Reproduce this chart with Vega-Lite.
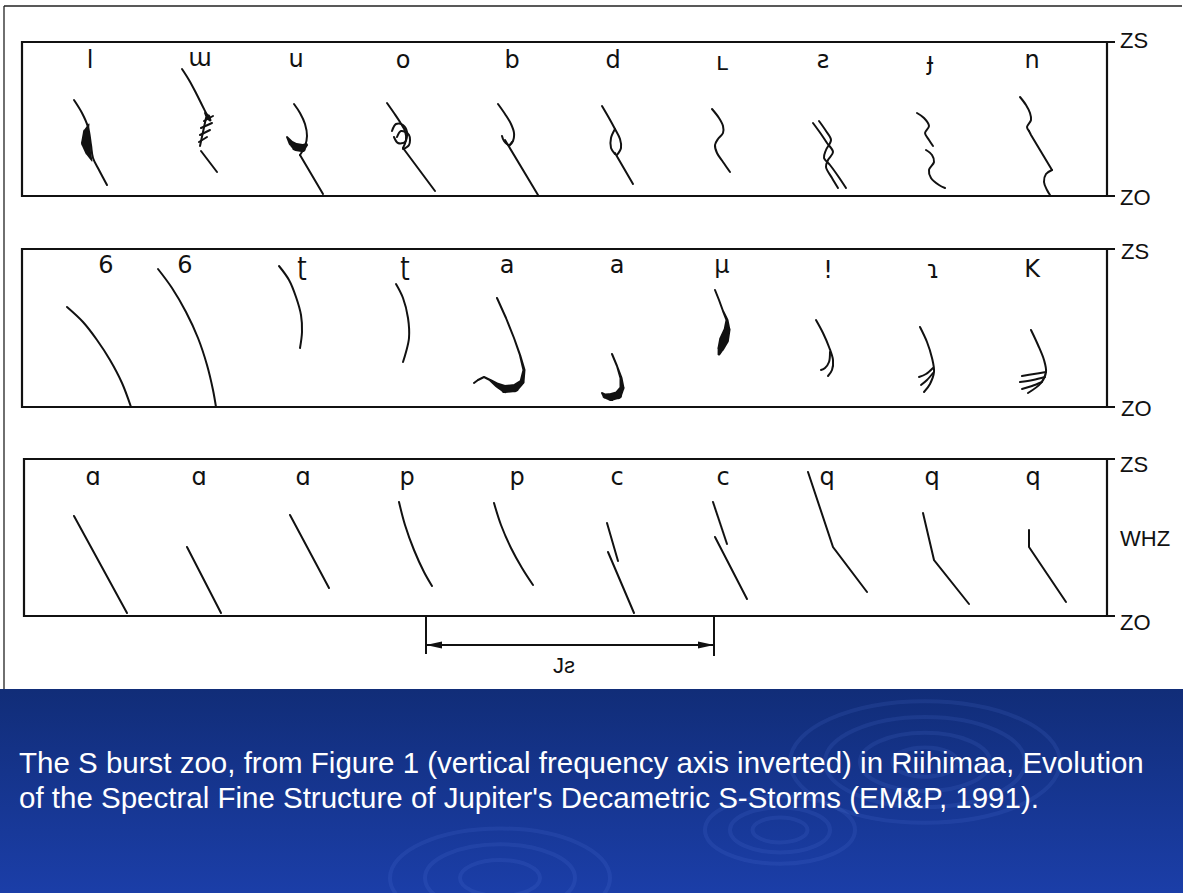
{
  "$schema": "https://vega.github.io/schema/vega-lite/v6.json",
  "width": 1183,
  "height": 893,
  "padding": 0,
  "autosize": {"type": "fit", "contains": "padding"},
  "background": "white",
  "config": {"view": {"stroke": null}},
  "resolve": {"scale": {"size": "independent", "shape": "independent"}},
  "datasets": {
    "band": [{"x1": 0, "x2": 1183, "y1": 689, "y2": 893}],
    "ripples": [
      {"x": 925, "y": 762, "rw": 270}, {"x": 925, "y": 762, "rw": 200}, {"x": 925, "y": 762, "rw": 130}, {"x": 925, "y": 762, "rw": 65},
      {"x": 780, "y": 830, "rw": 150}, {"x": 780, "y": 830, "rw": 100}, {"x": 780, "y": 830, "rw": 55},
      {"x": 500, "y": 878, "rw": 220}, {"x": 500, "y": 878, "rw": 150}, {"x": 500, "y": 878, "rw": 80}
    ],
    "panels": [
      {"x1": 22, "x2": 1107, "y1": 42, "y2": 196},
      {"x1": 22, "x2": 1107, "y1": 249, "y2": 407},
      {"x1": 24, "x2": 1107, "y1": 459, "y2": 616}
    ],
    "frame": [
      {"x": 4, "y": 6, "x2": 1182, "y2": 6},
      {"x": 4, "y": 6, "x2": 4, "y2": 689}
    ],
    "rules": [
      {"x": 1107, "y": 42, "x2": 1115, "y2": 42},
      {"x": 1107, "y": 196, "x2": 1115, "y2": 196},
      {"x": 1107, "y": 249, "x2": 1115, "y2": 249},
      {"x": 1107, "y": 407, "x2": 1115, "y2": 407},
      {"x": 1107, "y": 459, "x2": 1115, "y2": 459},
      {"x": 1107, "y": 616, "x2": 1115, "y2": 616},
      {"x": 426, "y": 616, "x2": 426, "y2": 654},
      {"x": 714, "y": 616, "x2": 714, "y2": 656},
      {"x": 426, "y": 645, "x2": 714, "y2": 645}
    ],
    "arrows": [{"x": 434, "y": 645, "dir": "L"}, {"x": 706, "y": 645, "dir": "R"}],
    "axislabels": [
      {"x": 1120, "y": 41, "t": "ZS"}, {"x": 1120, "y": 198, "t": "ZO"},
      {"x": 1121, "y": 252, "t": "ZS"}, {"x": 1121, "y": 409, "t": "ZO"},
      {"x": 1120, "y": 465, "t": "ZS"}, {"x": 1120, "y": 623, "t": "ZO"},
      {"x": 1120, "y": 539, "t": "WHZ"},
      {"x": 553, "y": 666, "t": "Jƨ"}
    ],
    "letters": [
      {"x": 90, "y": 68, "t": "l"}, {"x": 200, "y": 66, "t": "ɯ"}, {"x": 296, "y": 67, "t": "u"}, {"x": 403, "y": 68, "t": "o"}, {"x": 512, "y": 68, "t": "b"},
      {"x": 613, "y": 68, "t": "d"}, {"x": 722, "y": 70, "t": "ʟ"}, {"x": 823, "y": 68, "t": "ƨ"}, {"x": 930, "y": 70, "t": "ɟ"}, {"x": 1032, "y": 68, "t": "n"},
      {"x": 106, "y": 273, "t": "6"}, {"x": 185, "y": 273, "t": "6"}, {"x": 302, "y": 275, "t": "ʈ"}, {"x": 405, "y": 275, "t": "ʈ"}, {"x": 507, "y": 273, "t": "a"},
      {"x": 617, "y": 273, "t": "a"}, {"x": 722, "y": 273, "t": "µ"}, {"x": 828, "y": 278, "t": "!"}, {"x": 933, "y": 278, "t": "ɿ"}, {"x": 1032, "y": 277, "t": "K"},
      {"x": 93, "y": 485, "t": "ɑ"}, {"x": 199, "y": 485, "t": "ɑ"}, {"x": 303, "y": 485, "t": "ɑ"}, {"x": 407, "y": 485, "t": "p"}, {"x": 517, "y": 485, "t": "p"},
      {"x": 617, "y": 485, "t": "c"}, {"x": 723, "y": 485, "t": "c"}, {"x": 827, "y": 485, "t": "q"}, {"x": 932, "y": 485, "t": "q"}, {"x": 1033, "y": 485, "t": "q"}
    ],
    "curves": [
      {"id": "l", "i": 0, "x": 74, "y": 100}, {"id": "l", "i": 1, "x": 82, "y": 113}, {"id": "l", "i": 2, "x": 88, "y": 127}, {"id": "l", "i": 3, "x": 91, "y": 145}, {"id": "l", "i": 4, "x": 93, "y": 158}, {"id": "l", "i": 5, "x": 99, "y": 170}, {"id": "l", "i": 6, "x": 107, "y": 185},
      {"id": "m", "i": 0, "x": 182, "y": 69}, {"id": "m", "i": 1, "x": 189, "y": 80}, {"id": "m", "i": 2, "x": 196, "y": 93}, {"id": "m", "i": 3, "x": 202, "y": 105}, {"id": "m", "i": 4, "x": 208, "y": 117},
      {"id": "n", "i": 0, "x": 294, "y": 104}, {"id": "n", "i": 1, "x": 300, "y": 113}, {"id": "n", "i": 2, "x": 305, "y": 124}, {"id": "n", "i": 3, "x": 307, "y": 136}, {"id": "n", "i": 4, "x": 305, "y": 146}, {"id": "n", "i": 5, "x": 300, "y": 155},
      {"id": "o", "i": 0, "x": 387, "y": 103}, {"id": "o", "i": 1, "x": 394, "y": 113}, {"id": "o", "i": 2, "x": 400, "y": 122}, {"id": "o", "i": 3, "x": 405, "y": 131}, {"id": "o", "i": 4, "x": 406, "y": 140}, {"id": "o", "i": 5, "x": 403, "y": 148},
      {"id": "o2", "i": 0, "x": 392, "y": 131}, {"id": "o2", "i": 1, "x": 396, "y": 124}, {"id": "o2", "i": 2, "x": 403, "y": 125}, {"id": "o2", "i": 3, "x": 407, "y": 132}, {"id": "o2", "i": 4, "x": 405, "y": 142}, {"id": "o2", "i": 5, "x": 398, "y": 143}, {"id": "o2", "i": 6, "x": 394, "y": 137},
      {"id": "o3", "i": 0, "x": 397, "y": 137}, {"id": "o3", "i": 1, "x": 401, "y": 131}, {"id": "o3", "i": 2, "x": 409, "y": 135}, {"id": "o3", "i": 3, "x": 409, "y": 145}, {"id": "o3", "i": 4, "x": 403, "y": 149},
      {"id": "b", "i": 0, "x": 498, "y": 104}, {"id": "b", "i": 1, "x": 505, "y": 114}, {"id": "b", "i": 2, "x": 511, "y": 124}, {"id": "b", "i": 3, "x": 514, "y": 133}, {"id": "b", "i": 4, "x": 513, "y": 141}, {"id": "b", "i": 5, "x": 509, "y": 146},
      {"id": "b2", "i": 0, "x": 502, "y": 136}, {"id": "b2", "i": 1, "x": 504, "y": 141}, {"id": "b2", "i": 2, "x": 509, "y": 145}, {"id": "b2", "i": 3, "x": 512, "y": 142},
      {"id": "d", "i": 0, "x": 602, "y": 106}, {"id": "d", "i": 1, "x": 609, "y": 118}, {"id": "d", "i": 2, "x": 615, "y": 129}, {"id": "d", "i": 3, "x": 620, "y": 139}, {"id": "d", "i": 4, "x": 621, "y": 148}, {"id": "d", "i": 5, "x": 617, "y": 155},
      {"id": "d2", "i": 0, "x": 615, "y": 129}, {"id": "d2", "i": 1, "x": 611, "y": 138}, {"id": "d2", "i": 2, "x": 611, "y": 148}, {"id": "d2", "i": 3, "x": 615, "y": 154},
      {"id": "r", "i": 0, "x": 712, "y": 109}, {"id": "r", "i": 1, "x": 719, "y": 118}, {"id": "r", "i": 2, "x": 723, "y": 126}, {"id": "r", "i": 3, "x": 723, "y": 133}, {"id": "r", "i": 4, "x": 718, "y": 139}, {"id": "r", "i": 5, "x": 715, "y": 145}, {"id": "r", "i": 6, "x": 717, "y": 153}, {"id": "r", "i": 7, "x": 723, "y": 162}, {"id": "r", "i": 8, "x": 730, "y": 172},
      {"id": "sA", "i": 0, "x": 813, "y": 123}, {"id": "sA", "i": 1, "x": 821, "y": 134}, {"id": "sA", "i": 2, "x": 827, "y": 143}, {"id": "sA", "i": 3, "x": 833, "y": 152}, {"id": "sA", "i": 4, "x": 828, "y": 160}, {"id": "sA", "i": 5, "x": 826, "y": 167}, {"id": "sA", "i": 6, "x": 832, "y": 178}, {"id": "sA", "i": 7, "x": 838, "y": 188},
      {"id": "sB", "i": 0, "x": 819, "y": 121}, {"id": "sB", "i": 1, "x": 826, "y": 131}, {"id": "sB", "i": 2, "x": 831, "y": 140}, {"id": "sB", "i": 3, "x": 826, "y": 150}, {"id": "sB", "i": 4, "x": 824, "y": 158}, {"id": "sB", "i": 5, "x": 830, "y": 165}, {"id": "sB", "i": 6, "x": 838, "y": 176}, {"id": "sB", "i": 7, "x": 846, "y": 188},
      {"id": "t1", "i": 0, "x": 917, "y": 113}, {"id": "t1", "i": 1, "x": 924, "y": 118}, {"id": "t1", "i": 2, "x": 929, "y": 126}, {"id": "t1", "i": 3, "x": 925, "y": 133}, {"id": "t1", "i": 4, "x": 929, "y": 140}, {"id": "t1", "i": 5, "x": 933, "y": 146},
      {"id": "t2", "i": 0, "x": 926, "y": 150}, {"id": "t2", "i": 1, "x": 932, "y": 155}, {"id": "t2", "i": 2, "x": 934, "y": 162}, {"id": "t2", "i": 3, "x": 929, "y": 170}, {"id": "t2", "i": 4, "x": 931, "y": 178}, {"id": "t2", "i": 5, "x": 939, "y": 185}, {"id": "t2", "i": 6, "x": 945, "y": 188},
      {"id": "u1", "i": 0, "x": 1020, "y": 97}, {"id": "u1", "i": 1, "x": 1026, "y": 105}, {"id": "u1", "i": 2, "x": 1030, "y": 113}, {"id": "u1", "i": 3, "x": 1031, "y": 120}, {"id": "u1", "i": 4, "x": 1027, "y": 127}, {"id": "u1", "i": 5, "x": 1029, "y": 131},
      {"id": "u3", "i": 0, "x": 1052, "y": 170}, {"id": "u3", "i": 1, "x": 1046, "y": 174}, {"id": "u3", "i": 2, "x": 1044, "y": 182}, {"id": "u3", "i": 3, "x": 1047, "y": 190}, {"id": "u3", "i": 4, "x": 1050, "y": 195},
      {"id": "e1", "i": 0, "x": 67, "y": 307}, {"id": "e1", "i": 1, "x": 83, "y": 322}, {"id": "e1", "i": 2, "x": 97, "y": 340}, {"id": "e1", "i": 3, "x": 110, "y": 360}, {"id": "e1", "i": 4, "x": 122, "y": 383}, {"id": "e1", "i": 5, "x": 131, "y": 407},
      {"id": "e2", "i": 0, "x": 158, "y": 269}, {"id": "e2", "i": 1, "x": 172, "y": 288}, {"id": "e2", "i": 2, "x": 186, "y": 312}, {"id": "e2", "i": 3, "x": 198, "y": 338}, {"id": "e2", "i": 4, "x": 207, "y": 365}, {"id": "e2", "i": 5, "x": 213, "y": 390}, {"id": "e2", "i": 6, "x": 216, "y": 407},
      {"id": "f1", "i": 0, "x": 279, "y": 266}, {"id": "f1", "i": 1, "x": 289, "y": 280}, {"id": "f1", "i": 2, "x": 296, "y": 297}, {"id": "f1", "i": 3, "x": 301, "y": 315}, {"id": "f1", "i": 4, "x": 302, "y": 332}, {"id": "f1", "i": 5, "x": 300, "y": 348},
      {"id": "f2", "i": 0, "x": 396, "y": 284}, {"id": "f2", "i": 1, "x": 403, "y": 298}, {"id": "f2", "i": 2, "x": 408, "y": 318}, {"id": "f2", "i": 3, "x": 409, "y": 338}, {"id": "f2", "i": 4, "x": 406, "y": 352}, {"id": "f2", "i": 5, "x": 403, "y": 362},
      {"id": "i1", "i": 0, "x": 816, "y": 320}, {"id": "i1", "i": 1, "x": 823, "y": 333}, {"id": "i1", "i": 2, "x": 829, "y": 347}, {"id": "i1", "i": 3, "x": 833, "y": 360}, {"id": "i1", "i": 4, "x": 832, "y": 370}, {"id": "i1", "i": 5, "x": 828, "y": 376},
      {"id": "i2", "i": 0, "x": 830, "y": 352}, {"id": "i2", "i": 1, "x": 829, "y": 362}, {"id": "i2", "i": 2, "x": 825, "y": 368}, {"id": "i2", "i": 3, "x": 821, "y": 370},
      {"id": "j1", "i": 0, "x": 920, "y": 327}, {"id": "j1", "i": 1, "x": 927, "y": 342}, {"id": "j1", "i": 2, "x": 932, "y": 358}, {"id": "j1", "i": 3, "x": 934, "y": 372}, {"id": "j1", "i": 4, "x": 930, "y": 384}, {"id": "j1", "i": 5, "x": 924, "y": 392},
      {"id": "j2", "i": 0, "x": 933, "y": 368}, {"id": "j2", "i": 1, "x": 926, "y": 374}, {"id": "j2", "i": 2, "x": 919, "y": 377},
      {"id": "j3", "i": 0, "x": 933, "y": 373}, {"id": "j3", "i": 1, "x": 927, "y": 380}, {"id": "j3", "i": 2, "x": 921, "y": 385},
      {"id": "k1", "i": 0, "x": 1031, "y": 330}, {"id": "k1", "i": 1, "x": 1038, "y": 345}, {"id": "k1", "i": 2, "x": 1044, "y": 360}, {"id": "k1", "i": 3, "x": 1046, "y": 372}, {"id": "k1", "i": 4, "x": 1041, "y": 383}, {"id": "k1", "i": 5, "x": 1028, "y": 393},
      {"id": "k2", "i": 0, "x": 1046, "y": 372}, {"id": "k2", "i": 1, "x": 1034, "y": 374}, {"id": "k2", "i": 2, "x": 1022, "y": 376},
      {"id": "k3", "i": 0, "x": 1045, "y": 377}, {"id": "k3", "i": 1, "x": 1033, "y": 380}, {"id": "k3", "i": 2, "x": 1020, "y": 382},
      {"id": "k4", "i": 0, "x": 1042, "y": 382}, {"id": "k4", "i": 1, "x": 1032, "y": 386}, {"id": "k4", "i": 2, "x": 1022, "y": 389},
      {"id": "pb1", "i": 0, "x": 399, "y": 502}, {"id": "pb1", "i": 1, "x": 405, "y": 525}, {"id": "pb1", "i": 2, "x": 414, "y": 550}, {"id": "pb1", "i": 3, "x": 424, "y": 572}, {"id": "pb1", "i": 4, "x": 432, "y": 586},
      {"id": "pb2", "i": 0, "x": 494, "y": 503}, {"id": "pb2", "i": 1, "x": 501, "y": 525}, {"id": "pb2", "i": 2, "x": 511, "y": 548}, {"id": "pb2", "i": 3, "x": 522, "y": 568}, {"id": "pb2", "i": 4, "x": 533, "y": 585}
    ],
    "straights": [
      {"id": "mh1", "i": 0, "x": 204, "y": 121}, {"id": "mh1", "i": 1, "x": 213, "y": 116},
      {"id": "mh2", "i": 0, "x": 201, "y": 128}, {"id": "mh2", "i": 1, "x": 212, "y": 123},
      {"id": "mh3", "i": 0, "x": 200, "y": 135}, {"id": "mh3", "i": 1, "x": 210, "y": 130},
      {"id": "mh4", "i": 0, "x": 199, "y": 142}, {"id": "mh4", "i": 1, "x": 207, "y": 137},
      {"id": "mv", "i": 0, "x": 206, "y": 118}, {"id": "mv", "i": 1, "x": 200, "y": 146},
      {"id": "ms", "i": 0, "x": 201, "y": 151}, {"id": "ms", "i": 1, "x": 217, "y": 172},
      {"id": "ns", "i": 0, "x": 300, "y": 155}, {"id": "ns", "i": 1, "x": 323, "y": 194},
      {"id": "os", "i": 0, "x": 403, "y": 148}, {"id": "os", "i": 1, "x": 435, "y": 191},
      {"id": "bs", "i": 0, "x": 505, "y": 140}, {"id": "bs", "i": 1, "x": 538, "y": 195},
      {"id": "ds", "i": 0, "x": 615, "y": 153}, {"id": "ds", "i": 1, "x": 633, "y": 184},
      {"id": "us", "i": 0, "x": 1029, "y": 131}, {"id": "us", "i": 1, "x": 1031, "y": 135}, {"id": "us", "i": 2, "x": 1052, "y": 170},
      {"id": "a1", "i": 0, "x": 74, "y": 516}, {"id": "a1", "i": 1, "x": 127, "y": 613},
      {"id": "a2", "i": 0, "x": 187, "y": 547}, {"id": "a2", "i": 1, "x": 221, "y": 613},
      {"id": "a3", "i": 0, "x": 290, "y": 515}, {"id": "a3", "i": 1, "x": 329, "y": 588},
      {"id": "c1a", "i": 0, "x": 607, "y": 523}, {"id": "c1a", "i": 1, "x": 618, "y": 561},
      {"id": "c1b", "i": 0, "x": 608, "y": 552}, {"id": "c1b", "i": 1, "x": 634, "y": 613},
      {"id": "c2a", "i": 0, "x": 713, "y": 502}, {"id": "c2a", "i": 1, "x": 727, "y": 544},
      {"id": "c2b", "i": 0, "x": 715, "y": 537}, {"id": "c2b", "i": 1, "x": 747, "y": 599},
      {"id": "q1", "i": 0, "x": 808, "y": 472}, {"id": "q1", "i": 1, "x": 833, "y": 547}, {"id": "q1", "i": 2, "x": 867, "y": 592},
      {"id": "q2", "i": 0, "x": 923, "y": 513}, {"id": "q2", "i": 1, "x": 934, "y": 560}, {"id": "q2", "i": 2, "x": 969, "y": 604},
      {"id": "q3", "i": 0, "x": 1029, "y": 530}, {"id": "q3", "i": 1, "x": 1029, "y": 547}, {"id": "q3", "i": 2, "x": 1066, "y": 602}
    ],
    "trails": [
      {"id": "lb", "i": 0, "x": 89, "y": 124, "w": 1}, {"id": "lb", "i": 1, "x": 86, "y": 132, "w": 6}, {"id": "lb", "i": 2, "x": 86, "y": 143, "w": 10}, {"id": "lb", "i": 3, "x": 88, "y": 152, "w": 6}, {"id": "lb", "i": 4, "x": 92, "y": 161, "w": 1},
      {"id": "mb", "i": 0, "x": 205, "y": 113, "w": 2}, {"id": "mb", "i": 1, "x": 208, "y": 117, "w": 5}, {"id": "mb", "i": 2, "x": 210, "y": 120, "w": 3},
      {"id": "nb", "i": 0, "x": 287, "y": 137, "w": 2}, {"id": "nb", "i": 1, "x": 291, "y": 143, "w": 5}, {"id": "nb", "i": 2, "x": 296, "y": 147, "w": 8}, {"id": "nb", "i": 3, "x": 302, "y": 148, "w": 8}, {"id": "nb", "i": 4, "x": 306, "y": 145, "w": 4},
      {"id": "g1", "i": 0, "x": 497, "y": 298, "w": 2}, {"id": "g1", "i": 1, "x": 506, "y": 318, "w": 2}, {"id": "g1", "i": 2, "x": 514, "y": 338, "w": 2}, {"id": "g1", "i": 3, "x": 520, "y": 355, "w": 2.2}, {"id": "g1", "i": 4, "x": 524, "y": 370, "w": 3}, {"id": "g1", "i": 5, "x": 522, "y": 382, "w": 5}, {"id": "g1", "i": 6, "x": 515, "y": 388, "w": 8}, {"id": "g1", "i": 7, "x": 505, "y": 389, "w": 8}, {"id": "g1", "i": 8, "x": 497, "y": 385, "w": 5}, {"id": "g1", "i": 9, "x": 490, "y": 380, "w": 2.5}, {"id": "g1", "i": 10, "x": 484, "y": 377, "w": 2}, {"id": "g1", "i": 11, "x": 478, "y": 380, "w": 2}, {"id": "g1", "i": 12, "x": 474, "y": 383, "w": 2},
      {"id": "g2", "i": 0, "x": 612, "y": 354, "w": 2}, {"id": "g2", "i": 1, "x": 617, "y": 366, "w": 2}, {"id": "g2", "i": 2, "x": 621, "y": 378, "w": 3}, {"id": "g2", "i": 3, "x": 622, "y": 388, "w": 5}, {"id": "g2", "i": 4, "x": 618, "y": 395, "w": 8}, {"id": "g2", "i": 5, "x": 611, "y": 397, "w": 8}, {"id": "g2", "i": 6, "x": 605, "y": 396, "w": 5}, {"id": "g2", "i": 7, "x": 602, "y": 393, "w": 2},
      {"id": "h", "i": 0, "x": 715, "y": 290, "w": 2}, {"id": "h", "i": 1, "x": 719, "y": 300, "w": 2}, {"id": "h", "i": 2, "x": 723, "y": 311, "w": 2}, {"id": "h", "i": 3, "x": 727, "y": 320, "w": 3}, {"id": "h", "i": 4, "x": 727, "y": 330, "w": 7}, {"id": "h", "i": 5, "x": 724, "y": 340, "w": 10}, {"id": "h", "i": 6, "x": 721, "y": 348, "w": 7}, {"id": "h", "i": 7, "x": 719, "y": 354, "w": 3}
    ],
    "caption": [
      {"x": 19, "y": 773, "t": "The S burst zoo, from Figure 1 (vertical frequency axis inverted) in Riihimaa, Evolution"},
      {"x": 19, "y": 808, "t": "of the Spectral Fine Structure of Jupiter's Decametric S-Storms (EM&P, 1991)."}
    ]
  },
  "layer": [
    {
      "data": {"name": "band"},
      "mark": {"type": "rect", "fill": {"gradient": "linear", "x1": 0, "y1": 0, "x2": 0, "y2": 1, "stops": [{"offset": 0, "color": "#112d78"}, {"offset": 1, "color": "#1b3ea8"}]}},
      "encoding": {
        "x": {"field": "x1", "type": "quantitative", "scale": {"domain": [0, 1183], "nice": false, "zero": false}, "axis": null},
        "x2": {"field": "x2"},
        "y": {"field": "y1", "type": "quantitative", "scale": {"domain": [0, 893], "reverse": true, "nice": false, "zero": false}, "axis": null},
        "y2": {"field": "y2"}
      }
    },
    {
      "data": {"name": "ripples"},
      "mark": {"type": "point", "shape": "M -1 0 A 1 0.45 0 1 1 1 0 A 1 0.45 0 1 1 -1 0 Z", "filled": false, "stroke": "#5f82e6", "strokeOpacity": 0.2, "strokeWidth": 4, "clip": true},
      "encoding": {
        "x": {"field": "x", "type": "quantitative"},
        "y": {"field": "y", "type": "quantitative"},
        "size": {"field": "rw", "type": "quantitative", "scale": {"type": "pow", "exponent": 2, "domain": [0, 400], "range": [0, 160000]}, "legend": null}
      }
    },
    {
      "data": {"name": "frame"},
      "mark": {"type": "rule", "stroke": "#222222", "strokeWidth": 1.3},
      "encoding": {
        "x": {"field": "x", "type": "quantitative"},
        "y": {"field": "y", "type": "quantitative"},
        "x2": {"field": "x2"},
        "y2": {"field": "y2"}
      }
    },
    {
      "data": {"name": "panels"},
      "mark": {"type": "rect", "fill": null, "fillOpacity": 0, "stroke": "#111111", "strokeWidth": 2.2},
      "encoding": {
        "x": {"field": "x1", "type": "quantitative"},
        "x2": {"field": "x2"},
        "y": {"field": "y1", "type": "quantitative"},
        "y2": {"field": "y2"}
      }
    },
    {
      "data": {"name": "rules"},
      "mark": {"type": "rule", "stroke": "#111111", "strokeWidth": 2},
      "encoding": {
        "x": {"field": "x", "type": "quantitative"},
        "y": {"field": "y", "type": "quantitative"},
        "x2": {"field": "x2"},
        "y2": {"field": "y2"}
      }
    },
    {
      "data": {"name": "arrows"},
      "mark": {"type": "point", "filled": true, "color": "#111111", "size": 256, "opacity": 1},
      "encoding": {
        "x": {"field": "x", "type": "quantitative"},
        "y": {"field": "y", "type": "quantitative"},
        "shape": {"field": "dir", "type": "nominal", "scale": {"domain": ["L", "R"], "range": ["M -1 0 L 1 -0.45 L 1 0.45 Z", "M 1 0 L -1 -0.45 L -1 0.45 Z"]}, "legend": null}
      }
    },
    {
      "data": {"name": "curves"},
      "mark": {"type": "line", "interpolate": "catmull-rom", "stroke": "#111111", "strokeWidth": 2, "strokeCap": "round"},
      "encoding": {
        "x": {"field": "x", "type": "quantitative"},
        "y": {"field": "y", "type": "quantitative"},
        "detail": {"field": "id", "type": "nominal"},
        "order": {"field": "i", "type": "quantitative"}
      }
    },
    {
      "data": {"name": "straights"},
      "mark": {"type": "line", "interpolate": "linear", "stroke": "#111111", "strokeWidth": 2, "strokeCap": "round"},
      "encoding": {
        "x": {"field": "x", "type": "quantitative"},
        "y": {"field": "y", "type": "quantitative"},
        "detail": {"field": "id", "type": "nominal"},
        "order": {"field": "i", "type": "quantitative"}
      }
    },
    {
      "data": {"name": "trails"},
      "mark": {"type": "trail", "color": "#111111", "opacity": 1},
      "encoding": {
        "x": {"field": "x", "type": "quantitative"},
        "y": {"field": "y", "type": "quantitative"},
        "detail": {"field": "id", "type": "nominal"},
        "order": {"field": "i", "type": "quantitative"},
        "size": {"field": "w", "type": "quantitative", "scale": {"type": "linear", "domain": [0, 10], "range": [0, 10]}, "legend": null}
      }
    },
    {
      "data": {"name": "letters"},
      "mark": {"type": "text", "font": "DejaVu Sans", "fontSize": 24, "align": "center", "baseline": "alphabetic", "color": "#111111"},
      "encoding": {
        "x": {"field": "x", "type": "quantitative"},
        "y": {"field": "y", "type": "quantitative"},
        "text": {"field": "t", "type": "nominal"}
      }
    },
    {
      "data": {"name": "axislabels"},
      "mark": {"type": "text", "font": "Liberation Sans", "fontSize": 22, "align": "left", "baseline": "middle", "color": "#111111"},
      "encoding": {
        "x": {"field": "x", "type": "quantitative"},
        "y": {"field": "y", "type": "quantitative"},
        "text": {"field": "t", "type": "nominal"}
      }
    },
    {
      "data": {"name": "caption"},
      "mark": {"type": "text", "font": "Liberation Sans", "fontSize": 29.5, "align": "left", "baseline": "alphabetic", "color": "#ffffff"},
      "encoding": {
        "x": {"field": "x", "type": "quantitative"},
        "y": {"field": "y", "type": "quantitative"},
        "text": {"field": "t", "type": "nominal"}
      }
    }
  ]
}
